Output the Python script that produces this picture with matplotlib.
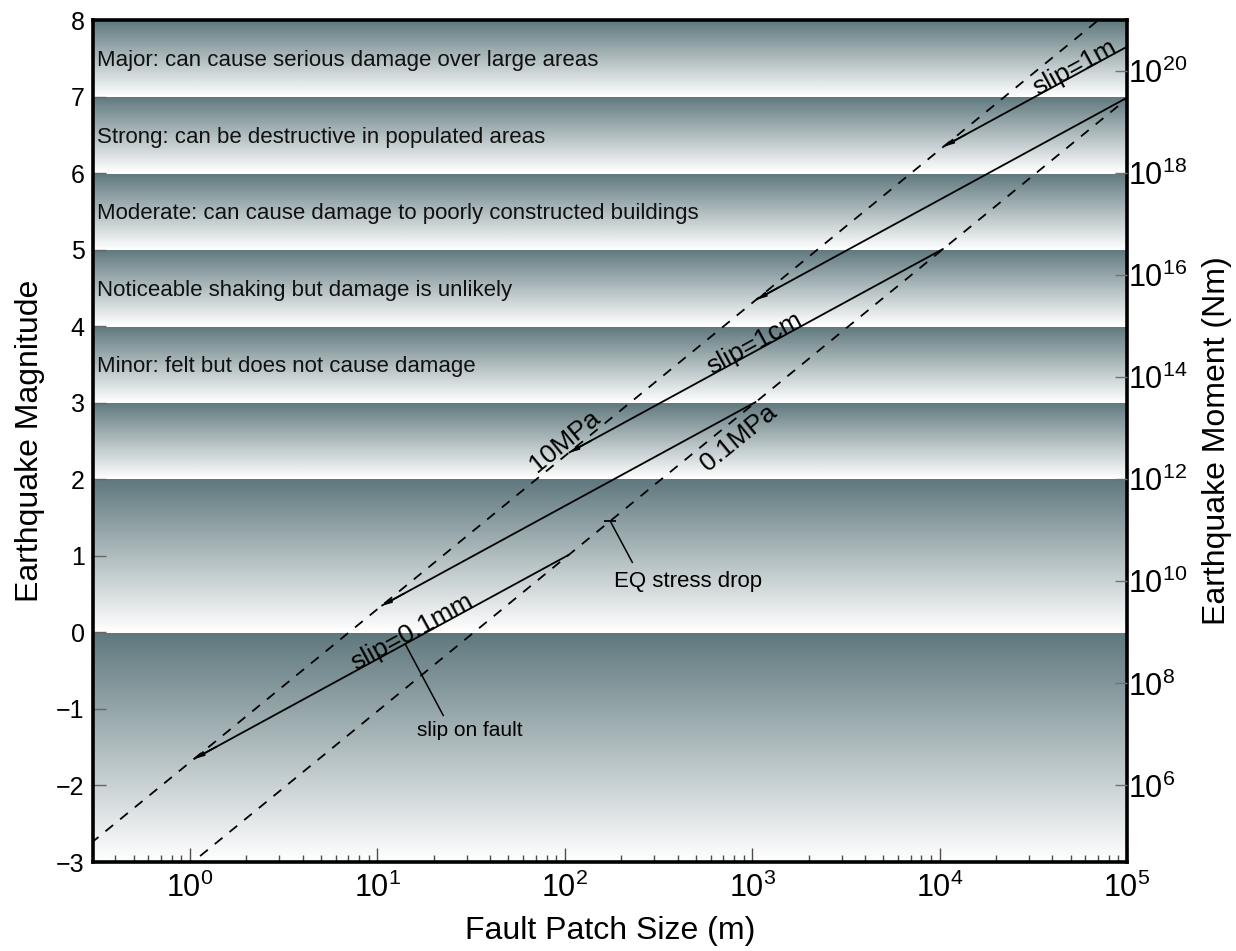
import numpy as np
import matplotlib
matplotlib.use("Agg")
import matplotlib.pyplot as plt
from matplotlib.ticker import FixedLocator, NullFormatter, LogLocator

plt.rcParams["font.family"] = ["Liberation Sans", "DejaVu Sans"]
plt.rcParams["mathtext.fontset"] = "custom"
plt.rcParams["mathtext.rm"] = "Liberation Sans"
plt.rcParams["mathtext.it"] = "Liberation Sans:italic"
plt.rcParams["mathtext.bf"] = "Liberation Sans:bold"
plt.rcParams["axes.unicode_minus"] = True

# ---------------------------------------------------------------- data
# magnitude bands (edges) used for the shaded background
band_edges = [-3, 0, 2, 3, 4, 5, 6, 7, 8]
# descriptive labels, each written inside the band starting at label_mags
label_mags = [7, 6, 5, 4, 3]
label_texts = [
    "Major: can cause serious damage over large areas",
    "Strong: can be destructive in populated areas",
    "Moderate: can cause damage to poorly constructed buildings",
    "Noticeable shaking but damage is unlikely",
    "Minor: felt but does not cause damage",
]

# average slip on the fault patch (m)
slip_values_m = [1e-4, 1e-3, 1e-2, 1e-1, 1.0]
slip_labels = ["slip=0.1mm", None, "slip=1cm", None, "slip=1m"]
slip_label_logL = [1.2, None, 3.03, None, 4.74]

# earthquake stress drops (Pa)
stress_drops_pa = [10e6, 0.1e6]
stress_labels = ["10MPa", "0.1MPa"]
stress_label_logL = [2.0, 2.91]
stress_label_shift = [(3.5, 7.0), (-3.0, -7.0)]   # offset points

shear_modulus = 3e10          # Pa
crack_factor = 2.0 / 7.0      # circular crack geometry factor

x_limits = (10 ** -0.518, 1e5)
y_limits = (-3, 8)
x_ticks = [1e0, 1e1, 1e2, 1e3, 1e4, 1e5]
y_ticks = [-3, -2, -1, 0, 1, 2, 3, 4, 5, 6, 7, 8]
moment_exponents = [6, 8, 10, 12, 14, 16, 18, 20]


def mw_from_moment(m0):
    return (2.0 / 3.0) * np.log10(m0) - 6.0


def slip_mw(L, d):
    return mw_from_moment(shear_modulus * L ** 2 * d)


def stress_mw(L, ds):
    return mw_from_moment(crack_factor * ds * L ** 3)


# ---------------------------------------------------------------- figure
fig = plt.figure(figsize=(12.36, 9.51), dpi=100)
ax = fig.add_axes([93 / 1236, 1 - 862 / 951, (1127 - 93) / 1236, (862 - 20) / 951])
ax.set_xscale("log")
ax.set_xlim(*x_limits)
ax.set_ylim(*y_limits)

# shaded bands: dark at the top of each band fading to white at the bottom
dark = np.array([0.37, 0.47, 0.49])
light = np.array([1.0, 1.0, 1.0])
t = np.linspace(0, 1, 256)[:, None]
grad = (dark[None, :] * (1 - t) + light[None, :] * t)[:, None, :]
for lo, hi in zip(band_edges[:-1], band_edges[1:]):
    ax.imshow(grad, extent=[0, 1, lo, hi], origin="upper", aspect="auto",
              transform=ax.get_yaxis_transform(), zorder=0, interpolation="bilinear")
ax.set_xlim(*x_limits)
ax.set_ylim(*y_limits)

for m, txt in zip(label_mags, label_texts):
    ax.text(0.004, m + 0.47, txt, transform=ax.get_yaxis_transform(),
            ha="left", va="center", fontsize=16, color="#111111", zorder=3)

Lgrid = np.logspace(-1, 6, 400)


def angle_of(f, logL):
    p1 = ax.transData.transform((10 ** logL, f(10 ** logL)))
    p2 = ax.transData.transform((10 ** (logL + 0.1), f(10 ** (logL + 0.1))))
    return np.degrees(np.arctan2(p2[1] - p1[1], p2[0] - p1[0]))


# stress drop lines (dashed)
for ds, lab, lL, sh in zip(stress_drops_pa, stress_labels, stress_label_logL,
                           stress_label_shift):
    ax.plot(Lgrid, stress_mw(Lgrid, ds), ls=(0, (5.5, 5)), color="black", lw=1.3, zorder=2)
    f = lambda L, ds=ds: stress_mw(L, ds)
    ang = angle_of(f, lL)
    va = "baseline" if ds > 1e6 else "top"
    ax.annotate(lab, xy=(10 ** lL, f(10 ** lL)), xytext=sh, textcoords="offset points",
                rotation=ang, rotation_mode="anchor", ha="center", va=va,
                fontsize=19, zorder=3)

# slip lines (solid), each drawn between the two stress drop lines
hi_ds, lo_ds = stress_drops_pa
for d, lab, lL in zip(slip_values_m, slip_labels, slip_label_logL):
    L_start = shear_modulus * d / (crack_factor * hi_ds)
    L_end = shear_modulus * d / (crack_factor * lo_ds)
    L = np.logspace(np.log10(L_start), np.log10(L_end), 50)
    ax.plot(L, slip_mw(L, d), color="black", lw=1.3, zorder=2, solid_capstyle="butt")
    # small head at the start of the segment
    L_h = L_start * 10 ** 0.12
    ax.annotate("", xy=(L_start, slip_mw(L_start, d)), xytext=(L_h, slip_mw(L_h, d)),
                arrowprops=dict(arrowstyle="-|>,head_length=0.55,head_width=0.13",
                                color="black", lw=1.2, shrinkA=0, shrinkB=0), zorder=2)
    if lab:
        f = lambda x, d=d: slip_mw(x, d)
        ang = angle_of(f, lL)
        ax.text(10 ** lL, f(10 ** lL), lab, rotation=ang, rotation_mode="anchor",
                ha="center", va="baseline", fontsize=19, zorder=3)

# annotation pointers
ptr_L0 = 10 ** 2.242
ax.plot([ptr_L0, 10 ** 2.36], [stress_mw(ptr_L0, stress_drops_pa[1]), 0.915],
        color="black", lw=1.1, zorder=3)
ax.plot([ptr_L0], [stress_mw(ptr_L0, stress_drops_pa[1])], marker="_", ms=9,
        mew=1.3, color="black", zorder=3)
ax.text(10 ** 2.265, 0.66, "EQ stress drop", ha="left", va="center", fontsize=16, zorder=3)

ptr_L1 = 10 ** 1.148
ax.plot([ptr_L1, 10 ** 1.351], [slip_mw(ptr_L1, slip_values_m[0]), -1.085],
        color="black", lw=1.1, zorder=3)
ax.text(10 ** 1.212, -1.28, "slip on fault", ha="left", va="center", fontsize=15, zorder=3)

# ---------------------------------------------------------------- axes styling
for s in ax.spines.values():
    s.set_linewidth(2.6)
    s.set_zorder(5)

ax.xaxis.set_major_locator(FixedLocator(x_ticks))
ax.set_xticklabels([r"$\mathregular{10^{%d}}$" % int(np.log10(v)) for v in x_ticks])
ax.xaxis.set_minor_locator(LogLocator(base=10, subs=np.arange(2, 10)))
ax.xaxis.set_minor_formatter(NullFormatter())
ax.tick_params(axis="x", which="major", direction="in", length=10, width=1.0,
               color="0.3", labelsize=22, pad=8, top=False)
ax.tick_params(axis="x", which="minor", direction="in", length=5, width=1.0,
               color="0.3", top=False)

ax.yaxis.set_major_locator(FixedLocator(y_ticks))
ax.tick_params(axis="y", which="major", direction="in", length=9, width=1.0,
               color="0.4", labelsize=18, pad=6, right=False)

ax.set_xlabel("Fault Patch Size (m)", fontsize=23, labelpad=8)
ax.set_ylabel("Earthquake Magnitude", fontsize=23, labelpad=8)

# right axis: seismic moment
ax2 = ax.twinx()
ax2.set_ylim(*y_limits)
ax2.set_yticks([mw_from_moment(10.0 ** e) for e in moment_exponents])
ax2.set_yticklabels([r"$\mathregular{10^{%d}}$" % e for e in moment_exponents])
ax2.tick_params(axis="y", direction="in", length=9, width=1.0, color="0.45",
                labelsize=22, pad=1)
for s in ax2.spines.values():
    s.set_visible(False)
ax2.set_ylabel("Earthquake Moment (Nm)", fontsize=23, labelpad=10)

fig.savefig("out.png", dpi=100)
